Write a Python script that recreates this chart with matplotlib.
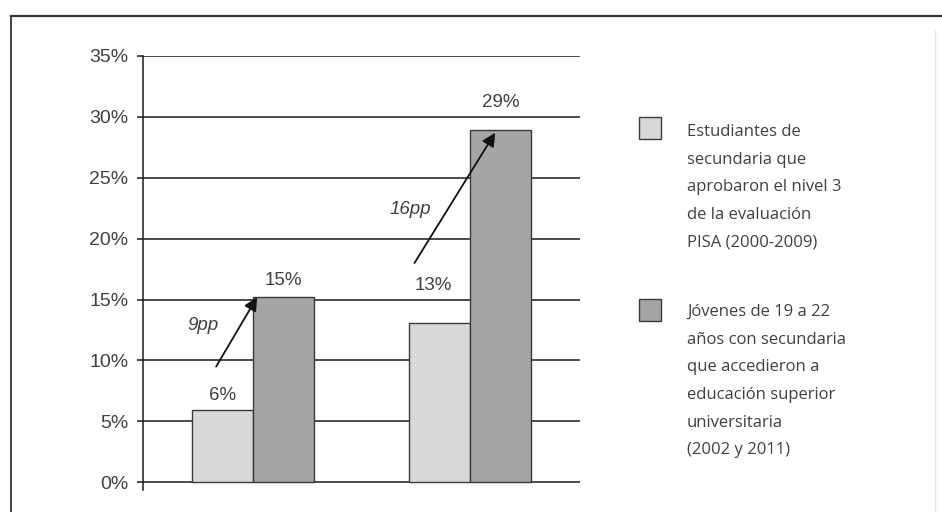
import numpy as np
import matplotlib
matplotlib.use("Agg")
import matplotlib.pyplot as plt
from matplotlib.lines import Line2D
from matplotlib.patches import Rectangle

# data
groups = [0, 1]
pisa = [5.9, 13.1]          # light bars
univ = [15.2, 28.9]         # dark bars
pisa_labels = ["6%", "13%"]
univ_labels = ["15%", "29%"]
change_labels = ["9pp", "16pp"]
yticks = [0, 5, 10, 15, 20, 25, 30, 35]
ytick_labels = ["0%", "5%", "10%", "15%", "20%", "25%", "30%", "35%"]
legend_texts = [
    "Estudiantes de\nsecundaria que\naprobaron el nivel 3\nde la evaluación\nPISA (2000-2009)",
    "Jóvenes de 19 a 22\naños con secundaria\nque accedieron a\neducación superior\nuniversitaria\n(2002 y 2011)",
]

light = "#d8d8d8"
dark = "#a5a5a5"
edge = "#3a3a3a"
txt = "#404040"

plt.rcParams["font.family"] = ["Liberation Sans", "DejaVu Sans"]

fig = plt.figure(figsize=(9.42, 5.12), dpi=100)
ax = fig.add_axes([143 / 942, 1 - 489.6 / 512, (580 - 143) / 942, (489.6 - 56) / 512])

w = 0.281
x = np.array(groups, dtype=float)
ax.bar(x - w / 2, pisa, width=w, color=light, edgecolor=edge, linewidth=1.0, zorder=3)
ax.bar(x + w / 2, univ, width=w, color=dark, edgecolor=edge, linewidth=1.0, zorder=3)

ax.set_xlim(-0.506, 1.508)
ax.set_ylim(-0.6, 35)
ax.set_yticks(yticks)
ax.set_yticklabels(ytick_labels, fontsize=14, color=txt)
ax.set_xticks([])
for y in yticks:
    ax.axhline(y, color="#1a1a1a", lw=1.1, zorder=1)
for s in ["top", "right", "bottom"]:
    ax.spines[s].set_visible(False)
ax.spines["left"].set_color("#1a1a1a")
ax.spines["left"].set_linewidth(1.1)
ax.tick_params(axis="y", direction="out", length=4.5, width=1.1, color="#1a1a1a", pad=6)

# value labels
pisa_off = [(0, 11), (-4, 27)]
univ_off = [(0, 12), (0, 20)]
for i in range(len(groups)):
    ax.annotate(pisa_labels[i], (x[i] - w / 2, pisa[i]), xytext=pisa_off[i],
                textcoords="offset points", ha="center", va="center", fontsize=13.5, color=txt)
    ax.annotate(univ_labels[i], (x[i] + w / 2, univ[i]), xytext=univ_off[i],
                textcoords="offset points", ha="center", va="center", fontsize=13.5, color=txt)

# change arrows
tails = [(-0.169, 9.5), (0.745, 18.0)]
head_dx = [0.02, 0.117]
head_dy = [0.0, -0.2]
label_pos = [(-0.229, 12.9), (0.725, 22.4)]
for i in range(len(groups)):
    ax.annotate("", xy=(x[i] + head_dx[i], univ[i] + head_dy[i]), xytext=tails[i],
                arrowprops=dict(arrowstyle="-|>", color="#111111", lw=1.3,
                                mutation_scale=20, shrinkA=0, shrinkB=0), zorder=5)
    ax.text(label_pos[i][0], label_pos[i][1], change_labels[i], ha="center", va="center",
            fontsize=13.5, style="italic", color=txt, zorder=5)

# legend drawn by hand
legend_font = ["Open Sans", "DejaVu Sans"]
sq = [(639, 117, light), (639, 299, dark)]
text_top = [124, 304]
for (px, py, c), t, ty in zip(sq, legend_texts, text_top):
    fig.add_artist(Rectangle((px / 942, 1 - (py + 22) / 512), 22 / 942, 22 / 512,
                             transform=fig.transFigure, facecolor=c, edgecolor=edge, lw=1.0))
    fig.text(687 / 942, 1 - ty / 512, t, ha="left", va="top", fontsize=12,
             family=legend_font, color=txt, linespacing=1.97)

# outer frame
fig.add_artist(Line2D([11 / 942, 1.0], [1 - 16 / 512] * 2, transform=fig.transFigure,
                      color="#333333", lw=1.6))
fig.add_artist(Line2D([11 / 942] * 2, [1 - 16 / 512, 0], transform=fig.transFigure,
                      color="#333333", lw=1.3))
fig.add_artist(Line2D([935 / 942] * 2, [1 - 30 / 512, 0], transform=fig.transFigure,
                      color="#e6e6e6", lw=1.0))

fig.savefig("out.png", dpi=100)
